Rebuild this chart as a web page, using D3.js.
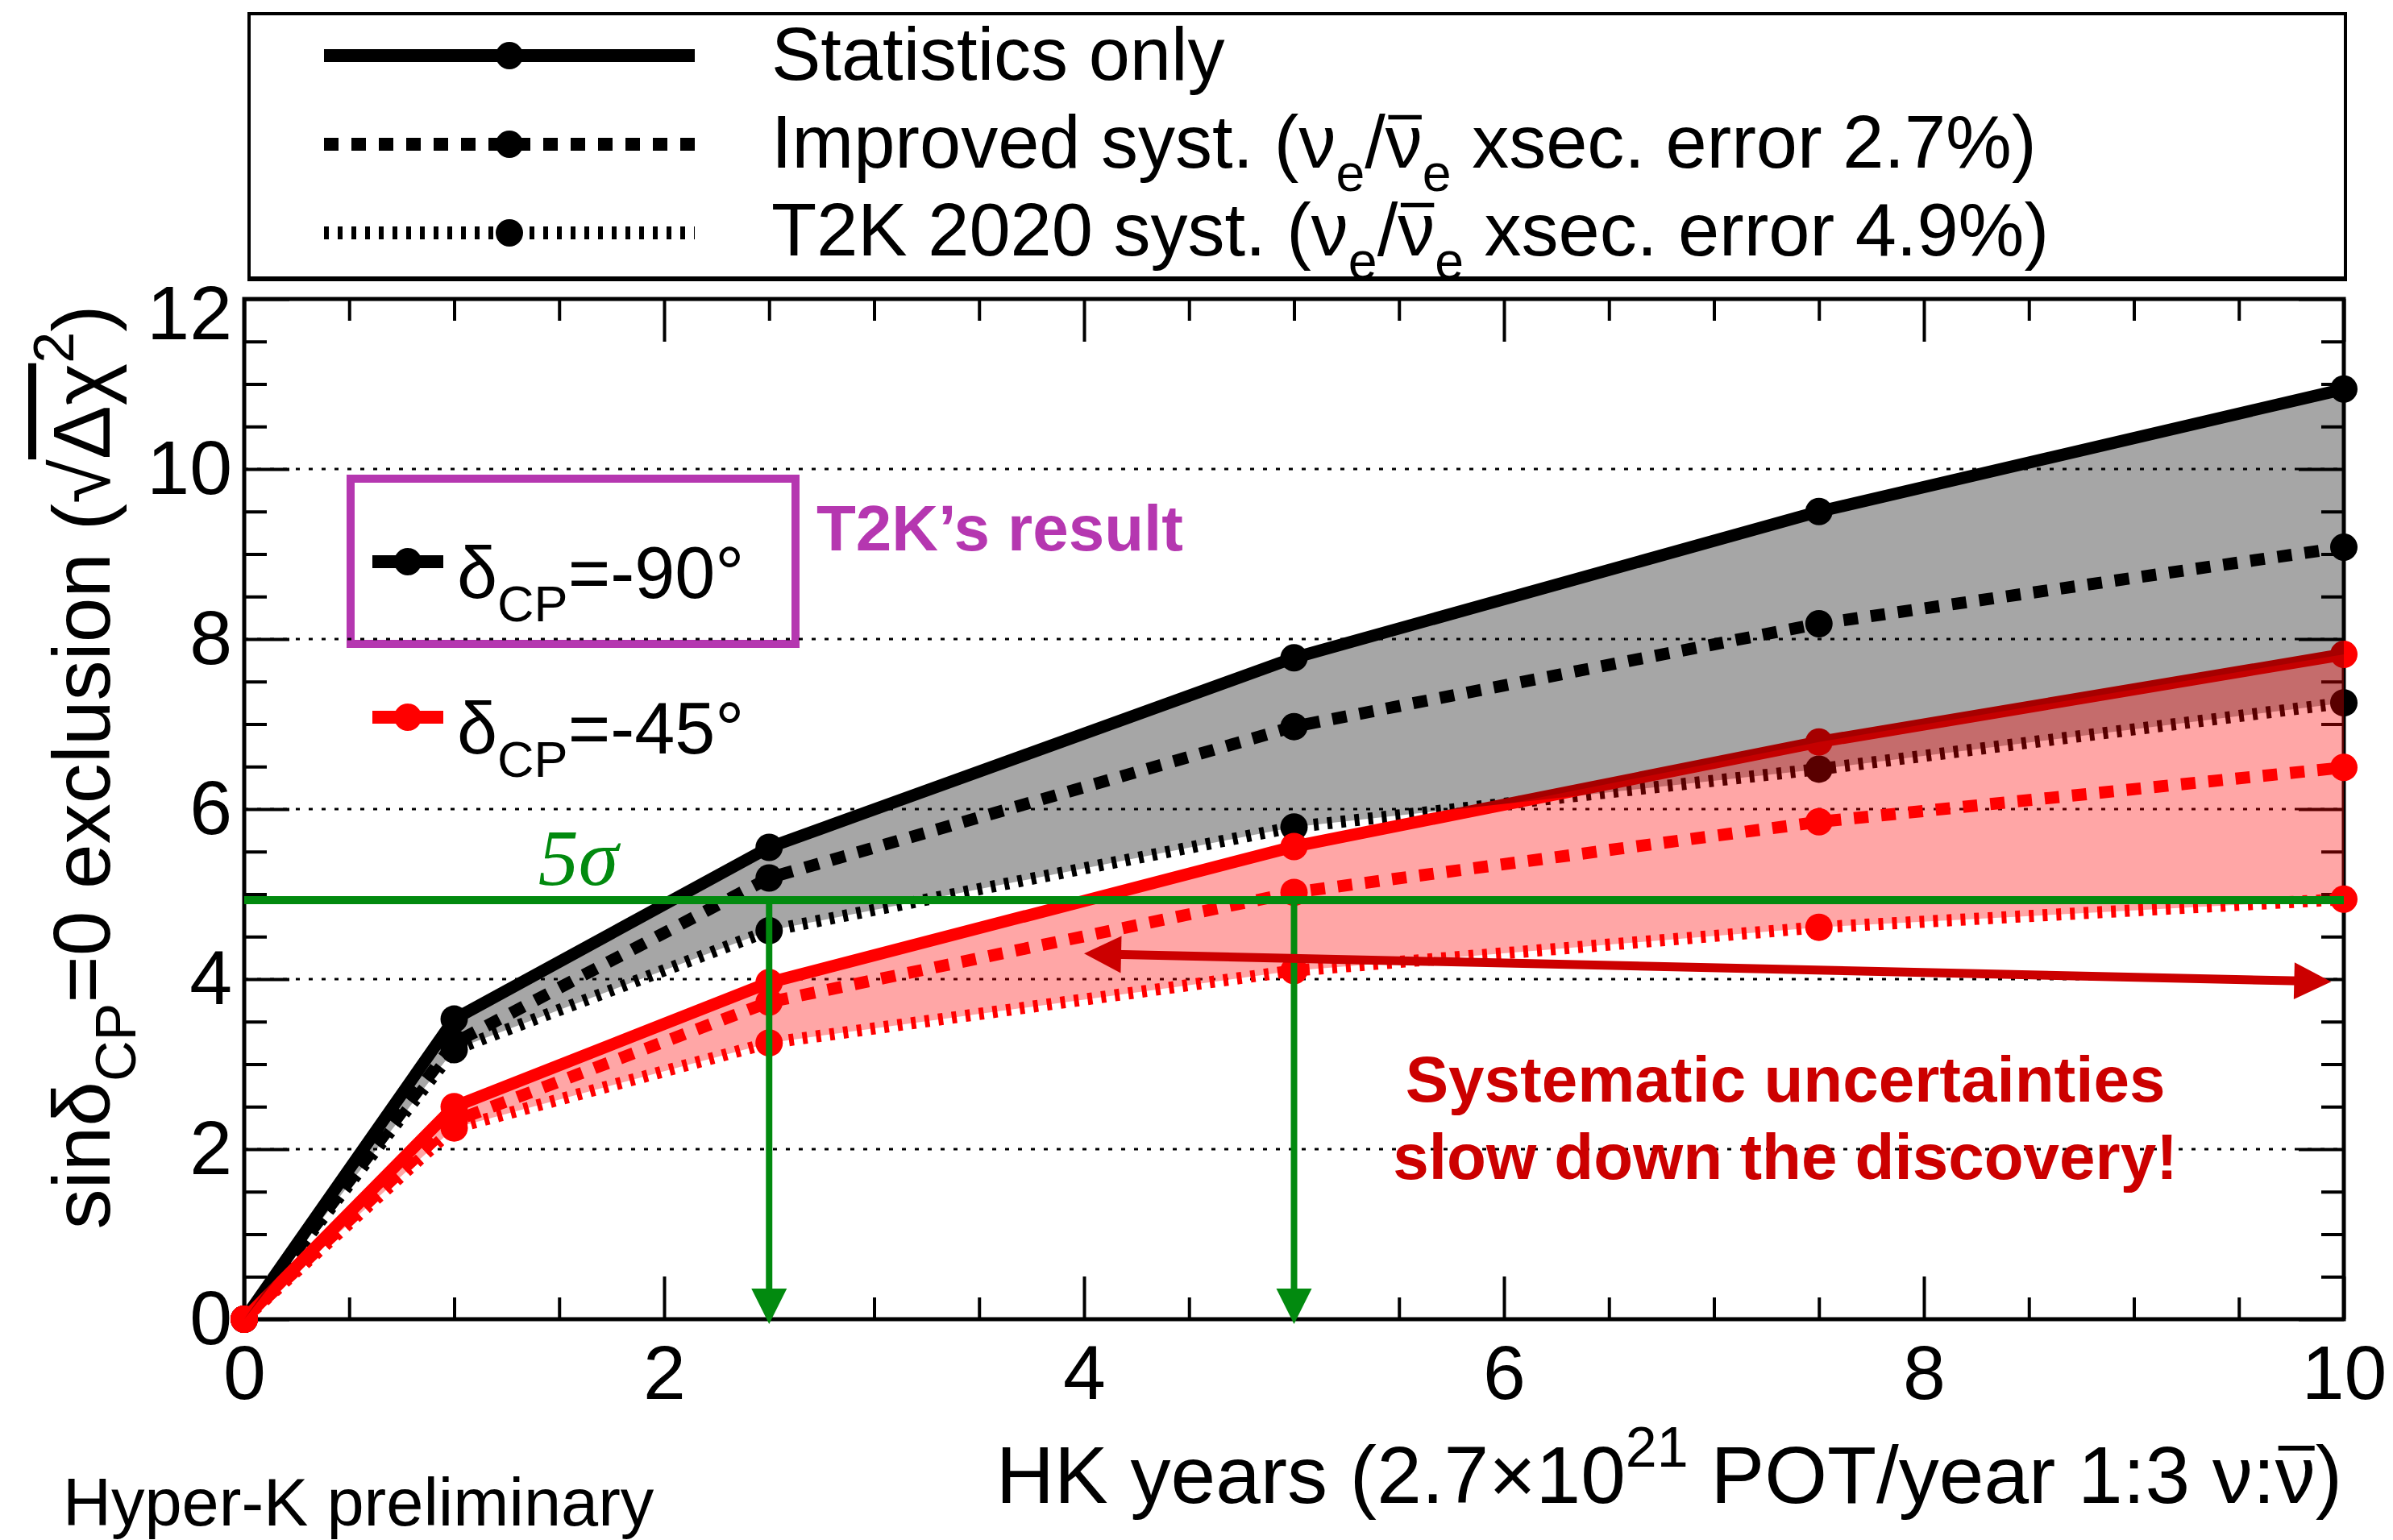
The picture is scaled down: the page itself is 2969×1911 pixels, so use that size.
<!DOCTYPE html>
<html><head><meta charset="utf-8">
<script src="https://cdn.jsdelivr.net/npm/d3@7"></script>
<style>
html,body{margin:0;padding:0;background:#fff;}
svg{display:block;}
</style></head><body>
<svg id="c" width="2969" height="1911"></svg>
<script>
// ---------------- data ----------------
const years = [0, 1, 2.5, 5, 7.5, 10];
const m90Stat = [0, 3.53, 5.55, 7.78, 9.50, 10.94];
const m90Impr = [0, 3.25, 5.19, 6.97, 8.18, 9.08];
const m90T2K  = [0, 3.17, 4.57, 5.79, 6.47, 7.25];
const m45Stat = [0, 2.50, 3.96, 5.56, 6.79, 7.82];
const m45Impr = [0, 2.33, 3.73, 5.02, 5.85, 6.49];
const m45T2K  = [0, 2.25, 3.25, 4.10, 4.61, 4.94];
const xTickLabels = [0, 2, 4, 6, 8, 10];
const yTickLabels = [0, 2, 4, 6, 8, 10, 12];
const gridValues = [2, 4, 6, 8, 10];
const fiveSigma = 4.93;
const arrowYears = [2.5, 5];
const sysArrow = [[4.0, 4.30], [9.94, 3.97]];
const legendNames = ["Statistics only", "Improved syst.", "T2K 2020 syst."];
const legendErrors = ["", "2.7%", "4.9%"];
const deltaLabels = ["-90°", "-45°"];

// ---------------- setup ----------------
const W = 2969, H = 1911;
const F = '"Liberation Sans", Arial, Helvetica, sans-serif';
const MAG = '#b537b0', GREEN = '#028a0f', DRED = '#cc0000';
const svg = d3.select('#c');
const x = d3.scaleLinear().domain([0, 10]).range([303, 2908]);
const y = d3.scaleLinear().domain([0, 12]).range([1637, 371]);

svg.append('rect').attr('width', W).attr('height', H).attr('fill', '#fff');
svg.append('defs').append('clipPath').attr('id', 'plot').append('rect')
  .attr('x', x(0)).attr('y', y(12)).attr('width', x(10) - x(0)).attr('height', y(0) - y(12));

// magenta legend box
svg.append('rect').attr('x', 435).attr('y', 594).attr('width', 552).attr('height', 205)
  .attr('fill', 'none').attr('stroke', MAG).attr('stroke-width', 10);

// grid
svg.append('g').selectAll('line').data(gridValues).join('line')
  .attr('x1', x(0)).attr('x2', x(10)).attr('y1', d => y(d)).attr('y2', d => y(d))
  .attr('stroke', '#000').attr('stroke-width', 3).attr('stroke-dasharray', '5 11');

// axes
function styleAxis(g) {
  g.select('.domain').remove();
  g.selectAll('.tick line').attr('stroke', '#000').attr('stroke-width', 4);
  g.selectAll('.tick text').attr('font-family', F).attr('font-size', 95).attr('fill', '#000');
}
const minorX = d3.range(0, 10.001, 0.5).filter(v => v % 2 !== 0);
const minorY = d3.range(0, 12.001, 0.5).filter(v => v % 2 !== 0);
svg.append('g').attr('transform', `translate(0,${y(0)})`)
  .call(d3.axisBottom(x).tickValues(xTickLabels).tickSize(-53).tickSizeOuter(0).tickPadding(32).tickFormat(d3.format('d'))).call(styleAxis);
svg.append('g').attr('transform', `translate(0,${y(0)})`)
  .call(d3.axisBottom(x).tickValues(minorX).tickSize(-27).tickSizeOuter(0).tickFormat('')).call(styleAxis);
svg.append('g').attr('transform', `translate(0,${y(12)})`)
  .call(d3.axisTop(x).tickValues(xTickLabels).tickSize(-53).tickSizeOuter(0).tickFormat('')).call(styleAxis);
svg.append('g').attr('transform', `translate(0,${y(12)})`)
  .call(d3.axisTop(x).tickValues(minorX).tickSize(-27).tickSizeOuter(0).tickFormat('')).call(styleAxis);
const yAx = svg.append('g').attr('transform', `translate(${x(0)},0)`)
  .call(d3.axisLeft(y).tickValues(yTickLabels).tickSize(-56).tickSizeOuter(0).tickPadding(15).tickFormat(d3.format('d'))).call(styleAxis);
yAx.selectAll('.tick text').filter(d => d === 12).attr('dy', '0.52em');
svg.append('g').attr('transform', `translate(${x(0)},0)`)
  .call(d3.axisLeft(y).tickValues(minorY).tickSize(-28).tickSizeOuter(0).tickFormat('')).call(styleAxis);
svg.append('g').attr('transform', `translate(${x(10)},0)`)
  .call(d3.axisRight(y).tickValues(yTickLabels).tickSize(-56).tickSizeOuter(0).tickFormat('')).call(styleAxis);
svg.append('g').attr('transform', `translate(${x(10)},0)`)
  .call(d3.axisRight(y).tickValues(minorY).tickSize(-28).tickSizeOuter(0).tickFormat('')).call(styleAxis);
svg.append('rect').attr('x', x(0)).attr('y', y(12)).attr('width', x(10) - x(0)).attr('height', y(0) - y(12))
  .attr('fill', 'none').attr('stroke', '#000').attr('stroke-width', 5);

// series
const dashes = { stat: null, impr: '18 16', t2k: '6 11' };
const series = [
  { v: m90T2K, c: '#000', s: 't2k' }, { v: m90Impr, c: '#000', s: 'impr' }, { v: m90Stat, c: '#000', s: 'stat' },
  { v: m45T2K, c: '#ff0000', s: 't2k' }, { v: m45Impr, c: '#ff0000', s: 'impr' }, { v: m45Stat, c: '#ff0000', s: 'stat' }
];
const line = d3.line().x((d, i) => x(years[i])).y(d => y(d));
const gS = svg.append('g');
series.forEach(sr => {
  gS.append('path').attr('d', line(sr.v)).attr('fill', 'none').attr('stroke', sr.c)
    .attr('stroke-width', 15).attr('stroke-dasharray', dashes[sr.s]).attr('stroke-linejoin', 'round');
  gS.append('g').selectAll('circle').data(sr.v).join('circle')
    .attr('cx', (d, i) => x(years[i])).attr('cy', d => y(d)).attr('r', 17).attr('fill', sr.c);
});

// bands
const band = (top, bot) => d3.area().x((d, i) => x(years[i])).y1((d, i) => y(top[i])).y0((d, i) => y(bot[i]))(years);
svg.append('path').attr('d', band(m90Stat, m90T2K)).attr('fill', 'rgba(0,0,0,0.35)').attr('clip-path', 'url(#plot)');
svg.append('path').attr('d', band(m45Stat, m45T2K)).attr('fill', 'rgba(255,0,0,0.35)').attr('clip-path', 'url(#plot)');

// 5 sigma line and arrows
svg.append('line').attr('x1', x(0)).attr('x2', x(10)).attr('y1', y(fiveSigma)).attr('y2', y(fiveSigma))
  .attr('stroke', GREEN).attr('stroke-width', 10);
arrowYears.forEach(a => {
  const tip = y(0) + 6, hl = 44, hw = 22;
  svg.append('line').attr('x1', x(a)).attr('x2', x(a)).attr('y1', y(fiveSigma)).attr('y2', tip - hl + 2)
    .attr('stroke', GREEN).attr('stroke-width', 8);
  svg.append('path').attr('d', `M${x(a)},${tip}L${x(a) - hw},${tip - hl}L${x(a) + hw},${tip - hl}Z`).attr('fill', GREEN);
});

// systematic double arrow
(function () {
  const p0 = [x(sysArrow[0][0]), y(sysArrow[0][1])], p1 = [x(sysArrow[1][0]), y(sysArrow[1][1])];
  const dx = p1[0] - p0[0], dy = p1[1] - p0[1], L = Math.hypot(dx, dy), ux = dx / L, uy = dy / L;
  const hl = 46, hw = 23;
  svg.append('line').attr('x1', p0[0] + ux * hl * 0.8).attr('y1', p0[1] + uy * hl * 0.8)
    .attr('x2', p1[0] - ux * hl * 0.8).attr('y2', p1[1] - uy * hl * 0.8)
    .attr('stroke', DRED).attr('stroke-width', 11);
  const head = (t, s) => {
    const bx = t[0] + s * ux * hl, by = t[1] + s * uy * hl;
    return `M${t[0]},${t[1]}L${bx - uy * hw},${by + ux * hw}L${bx + uy * hw},${by - ux * hw}Z`;
  };
  svg.append('path').attr('d', head(p0, 1)).attr('fill', DRED);
  svg.append('path').attr('d', head(p1, -1)).attr('fill', DRED);
})();

// rich text helper: 'sub', 'sup', 'bar' (overbar drawn as a small rule above the glyph), 'over' (css overline)
function rich(sel, parts, fs, container) {
  let shift = 0;
  const bars = [];
  parts.forEach(p => {
    const [str, mode] = Array.isArray(p) ? p : [p, ''];
    let target = 0, size = fs;
    if (mode === 'sub') { target = 0.32 * fs; size = 0.7 * fs; }
    if (mode === 'sup') { target = -0.45 * fs; size = 0.7 * fs; }
    const t = sel.append('tspan').text(str).attr('font-size', size).attr('dy', target - shift);
    if (mode === 'over') t.style('text-decoration', 'overline');
    if (mode === 'bar') bars.push(t.node());
    shift = target;
  });
  bars.forEach(n => {
    const s = n.getStartPositionOfChar(0), e = n.getEndPositionOfChar(n.getNumberOfChars() - 1);
    const w = e.x - s.x;
    (container || svg).append('line')
      .attr('x1', s.x + w * 0.08).attr('x2', e.x - w * 0.02)
      .attr('y1', s.y - 0.68 * fs).attr('y2', s.y - 0.68 * fs)
      .attr('stroke', sel.attr('fill') || '#000').attr('stroke-width', 0.06 * fs);
  });
}

// annotations
svg.append('text').attr('x', x(1.40)).attr('y', y(5.11)).attr('font-family', '"Liberation Serif", "Times New Roman", serif')
  .attr('font-style', 'italic').attr('font-size', 100).attr('fill', GREEN).text('5σ');
[["Systematic uncertainties", 2.56], ["slow down the discovery!", 1.65]].forEach(([t, v]) => {
  svg.append('text').attr('x', x(7.34)).attr('y', y(v)).attr('text-anchor', 'middle').attr('font-family', F)
    .attr('font-weight', 'bold').attr('font-size', 80).attr('fill', DRED).text(t);
});
svg.append('text').attr('x', 1013).attr('y', 683).attr('font-family', F).attr('font-weight', 'bold')
  .attr('font-size', 80).attr('fill', MAG).text('T2K’s result');

// delta legend
[['#000', 697, 742, deltaLabels[0]], ['#ff0000', 890, 935, deltaLabels[1]]].forEach(([c, ly, by, lab]) => {
  svg.append('line').attr('x1', 462).attr('x2', 550).attr('y1', ly).attr('y2', ly).attr('stroke', c).attr('stroke-width', 16);
  svg.append('circle').attr('cx', 506).attr('cy', ly).attr('r', 17).attr('fill', c);
  const t = svg.append('text').attr('x', 567).attr('y', by).attr('font-family', F).attr('fill', '#000').attr('font-size', 90);
  rich(t, ['δ', ['CP', 'sub'], '=' + lab], 90);
});

// top legend
svg.append('rect').attr('x', 309).attr('y', 17).attr('width', 2601).attr('height', 328)
  .attr('fill', '#fff').attr('stroke', '#000').attr('stroke-width', 4);
svg.append('line').attr('x1', 307).attr('x2', 2912).attr('y1', 346).attr('y2', 346).attr('stroke', '#000').attr('stroke-width', 6);
const rowsY = [69, 179, 289], rowsBase = [99, 208, 317], styles = ['stat', 'impr', 't2k'];
legendNames.forEach((name, i) => {
  svg.append('line').attr('x1', 402).attr('x2', 862).attr('y1', rowsY[i]).attr('y2', rowsY[i])
    .attr('stroke', '#000').attr('stroke-width', 16).attr('stroke-dasharray', dashes[styles[i]]);
  svg.append('circle').attr('cx', 632).attr('cy', rowsY[i]).attr('r', 17).attr('fill', '#000');
  const t = svg.append('text').attr('x', 957).attr('y', rowsBase[i]).attr('font-family', F).attr('font-size', 92).attr('fill', '#000');
  if (!legendErrors[i]) rich(t, [name], 92);
  else rich(t, [name + ' (ν', ['e', 'sub'], '/', ['ν', 'bar'], ['e', 'sub'], ' xsec. error ' + legendErrors[i] + ')'], 92);
});

// axis titles
const ytG = svg.append('g').attr('transform', `translate(136,952) rotate(-90)`);
const yt = ytG.append('text').attr('text-anchor', 'middle')
  .attr('font-family', F).attr('font-size', 100).attr('fill', '#000');
rich(yt, ['sinδ', ['CP', 'sub'], '=0 exclusion (√', ['Δχ', 'over'], ['2', 'sup'], ')'], 100, ytG);
const xt = svg.append('text').attr('x', 2906).attr('y', 1865).attr('text-anchor', 'end')
  .attr('font-family', F).attr('font-size', 100).attr('fill', '#000');
rich(xt, ['HK years (2.7×10', ['21', 'sup'], ' POT/year 1:3 ν:', ['ν', 'bar'], ')'], 100);
svg.append('text').attr('x', 78).attr('y', 1893).attr('font-family', F).attr('font-size', 83).attr('fill', '#000').text('Hyper-K preliminary');
</script>
</body></html>
